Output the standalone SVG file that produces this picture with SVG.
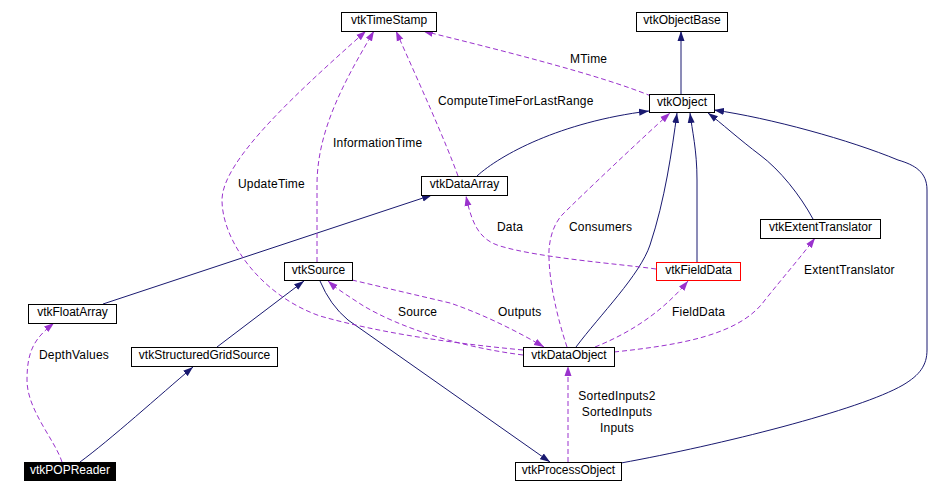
<svg xmlns="http://www.w3.org/2000/svg" width="942" height="493" viewBox="0 0 942 493">
<style>
.n rect{fill:#fff;stroke:#000;stroke-width:1}
.n text{font-family:"Liberation Sans",Arial,sans-serif;font-size:12px;text-anchor:middle;fill:#000}
.e{fill:none;stroke:#191970;stroke-width:1;marker-end:url(#an)}
.d{fill:none;stroke:#9a32cd;stroke-width:1;stroke-dasharray:5,3;marker-end:url(#ap)}
.l{font-family:"Liberation Sans",Arial,sans-serif;font-size:12px;letter-spacing:0.2px;fill:#000}
</style>
<defs>
<marker id="an" markerUnits="userSpaceOnUse" markerWidth="11" markerHeight="8" refX="10" refY="4" orient="auto"><path d="M0,0.5 L10,4 L0,7.5 z" fill="#191970"/></marker>
<marker id="ap" markerUnits="userSpaceOnUse" markerWidth="11" markerHeight="8" refX="10" refY="4" orient="auto"><path d="M0,0.5 L10,4 L0,7.5 z" fill="#9a32cd"/></marker>
</defs>
<rect width="942" height="493" fill="#fff"/>
<g id="connectors">
<path class="e" d="M681,95 L681,31"/>
<path class="e" d="M477,176 C500,155 560,122 649,111"/>
<path class="e" d="M103,304 L432,195"/>
<path class="e" d="M217,347 L304,281"/>
<path class="e" d="M80,462 C110,440 160,395 193,367"/>
<path class="e" d="M320,281 Q330,305 348,320 L550,462"/>
<path class="e" d="M576,347 C600,315 640,275 650,245 C665,200 672,150 677,113"/>
<path class="e" d="M697,262 L697,180 C697,150 692,130 690,113"/>
<path class="e" d="M813,219 C800,195 780,170 760,155 C740,140 720,122 708,113"/>
<path class="e" d="M621,463 C720,445 860,410 903,385 C920,375 927,365 927,350 L927,190 C927,172 915,165 898,160 C850,140 770,118 714,110"/>
<path class="d" d="M651,96 C600,75 500,50 423,31"/>
<path class="d" d="M458,176 C445,140 420,85 396,31"/>
<path class="d" d="M317,262 L317,185 C317,130 345,80 374,31"/>
<path class="d" d="M523,350 C450,343 380,333 320,316 C260,295 222,240 222,200 C222,160 300,90 366,31"/>
<path class="d" d="M523,355 C460,347 400,328 362,305 C350,297 338,290 328,281"/>
<path class="d" d="M352,280 L450,303 C480,313 515,330 544,347"/>
<path class="d" d="M567,347 C558,320 548,280 549,250 C550,235 555,222 563,214 C580,197 640,140 670,113"/>
<path class="d" d="M656,269 C620,264 540,258 500,246 C480,240 472,225 466,196"/>
<path class="d" d="M595,347 C625,335 660,315 688,281"/>
<path class="d" d="M614,352 C680,345 740,335 765,300 C785,275 800,258 815,238"/>
<path class="d" d="M568,462 L568,366"/>
<path class="d" d="M62,462 C55,440 27,410 27,380 C27,350 35,338 54,323"/>
<text class="l" x="570" y="63">MTime</text>
<text class="l" x="438" y="105">ComputeTimeForLastRange</text>
<text class="l" x="333" y="147">InformationTime</text>
<text class="l" x="238" y="188">UpdateTime</text>
<text class="l" x="497" y="231">Data</text>
<text class="l" x="569" y="231">Consumers</text>
<text class="l" x="398" y="316">Source</text>
<text class="l" x="498" y="316">Outputs</text>
<text class="l" x="672" y="316">FieldData</text>
<text class="l" x="804" y="274">ExtentTranslator</text>
<text class="l" x="39" y="359">DepthValues</text>
<text class="l" x="617" y="400" text-anchor="middle">SortedInputs2</text>
<text class="l" x="617" y="416" text-anchor="middle">SortedInputs</text>
<text class="l" x="617" y="432" text-anchor="middle">Inputs</text>
</g>
<g id="vtkTimeStamp" class="n"><rect x="341.5" y="12.5" width="95" height="19"/><text x="389" y="24">vtkTimeStamp</text></g>
<g id="vtkObjectBase" class="n"><rect x="636.5" y="12.5" width="91" height="19"/><text x="682" y="24">vtkObjectBase</text></g>
<g id="vtkObject" class="n"><rect x="649.5" y="94.5" width="65" height="18"/><text x="682" y="106">vtkObject</text></g>
<g id="vtkDataArray" class="n"><rect x="421.5" y="176.5" width="86" height="19"/><text x="464.5" y="188">vtkDataArray</text></g>
<g id="vtkSource" class="n"><rect x="284.5" y="262.5" width="68" height="18"/><text x="318.5" y="274">vtkSource</text></g>
<g id="vtkFloatArray" class="n"><rect x="28.5" y="304.5" width="88" height="19"/><text x="72.5" y="316">vtkFloatArray</text></g>
<g id="vtkStructuredGridSource" class="n"><rect x="131.5" y="347.5" width="146" height="19"/><text x="204.5" y="359">vtkStructuredGridSource</text></g>
<g id="vtkPOPReader" class="n"><rect x="24.5" y="462.5" width="91" height="18" style="fill:#000"/><text x="70" y="474" style="fill:#fff">vtkPOPReader</text></g>
<g id="vtkDataObject" class="n"><rect x="523.5" y="347.5" width="91" height="19"/><text x="569" y="359">vtkDataObject</text></g>
<g id="vtkProcessObject" class="n"><rect x="515.5" y="462.5" width="106" height="18"/><text x="568.5" y="474">vtkProcessObject</text></g>
<g id="vtkFieldData" class="n"><rect x="656.5" y="262.5" width="84" height="18" style="stroke:#ff0000"/><text x="698.5" y="274">vtkFieldData</text></g>
<g id="vtkExtentTranslator" class="n"><rect x="760.5" y="219.5" width="120" height="19"/><text x="820.5" y="231">vtkExtentTranslator</text></g>
</svg>
